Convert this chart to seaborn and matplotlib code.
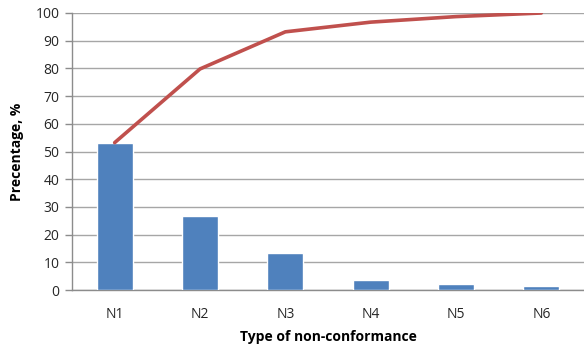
import matplotlib
matplotlib.use("Agg")
import matplotlib.pyplot as plt
import seaborn as sns
import pandas as pd
from matplotlib.ticker import FixedLocator

categories = ["N1", "N2", "N3", "N4", "N5", "N6"]
share = [53.2, 26.6, 13.4, 3.5, 2.0, 1.3]
cumulative = [53.2, 79.8, 93.2, 96.7, 98.7, 100.0]
y_ticks = [0, 10, 20, 30, 40, 50, 60, 70, 80, 90, 100]

df = pd.DataFrame({"type": categories, "share": share, "cumulative": cumulative})

sns.set_theme(style="white")
plt.rcParams["font.family"] = ["Open Sans", "DejaVu Sans"]

fig = plt.figure(figsize=(5.84, 3.49), dpi=100)
ax = fig.add_axes([72 / 584, 1 - 290 / 349, 1 - 72 / 584, (290 - 13) / 349])

sns.barplot(data=df, x="type", y="share", color="#4F81BD", saturation=1,
            width=0.42, ax=ax, zorder=3)
sns.pointplot(data=df, x="type", y="cumulative", color="#C0504D", markers="",
              linestyles="-", lw=2.6, ax=ax, zorder=4)

ax.set_xlim(-0.5, 5.5)
ax.set_ylim(0, 100)
ax.set_yticks(y_ticks)
ax.grid(axis="y", color="#A6A6A6", linewidth=1, zorder=0)
ax.set_axisbelow(True)

for side in ("top", "right"):
    ax.spines[side].set_visible(False)
for side in ("left", "bottom"):
    ax.spines[side].set_color("#8C8C8C")
    ax.spines[side].set_linewidth(1)

ax.xaxis.set_minor_locator(FixedLocator([i - 0.5 for i in range(len(categories) + 1)]))
ax.tick_params(axis="x", which="major", length=0, pad=12, labelsize=10, labelcolor="#262626")
ax.tick_params(axis="x", which="minor", length=5, width=1, color="#8C8C8C", direction="out")
ax.tick_params(axis="y", which="major", length=5, width=1, color="#8C8C8C", direction="out",
               pad=4, labelsize=10, labelcolor="#262626", left=True)

ax.set_xlabel("Type of non-conformance", fontsize=10, fontweight="bold",
              color="#000000", labelpad=6)
ax.set_ylabel("Precentage, %", fontsize=10, fontweight="bold", color="#000000",
              labelpad=8)

fig.savefig("out.png", dpi=100)
